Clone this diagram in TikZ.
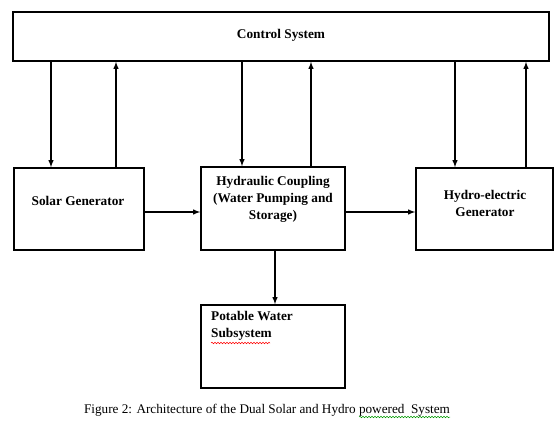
\documentclass[tikz,border=0pt]{standalone}
\usepackage{fontspec}
\setmainfont{Liberation Serif}
\usetikzlibrary{decorations.pathmorphing}
\tikzset{
  blok/.style={draw, line width=1.6pt, inner sep=0pt},
  lbl/.style={font=\bfseries\fontsize{13.3}{17}\selectfont, align=center, inner sep=0pt},
  fleche/.style={->, line width=1.4pt},
  squig/.style={decorate, decoration={snake, amplitude=0.8pt, segment length=3pt}, line width=0.5pt},
}
\begin{document}
\begin{tikzpicture}[x=1pt, y=-1pt, >=latex]
\useasboundingbox (0,0) rectangle (560,422);

% blocs
\node[blok, minimum width=536, minimum height=49] (ctrl) at (281,36.5) {};
\node[lbl] (ctrltxt) at (281,35) {Control System};

\node[blok, minimum width=130, minimum height=82] (solar) at (79,209) {};
\node[lbl] (solartxt) at (78,201) {Solar Generator};

\node[blok, minimum width=144, minimum height=83] (hydr) at (273,208.5) {};
\node[lbl] (hydrtxt) at (273,199) {Hydraulic Coupling\\(Water Pumping and\\Storage)};

\node[blok, minimum width=137, minimum height=82] (hydro) at (484.5,209) {};
\node[lbl] (hydrotxt) at (485,203.5) {Hydro-electric\\Generator};

\node[blok, minimum width=144, minimum height=83] (pot) at (273,346.5) {};
\node[lbl, align=left, anchor=north west] (pottxt) at (211,311) {Potable Water\\Subsystem};

% liaisons avec le controle
\foreach \xa/\xb/\b in {51/116/solar, 242/311/hydr, 455/526/hydro} {
  \draw[fleche] (\xa,0 |- ctrl.south) -- (\xa,0 |- \b.north);
  \draw[fleche] (\xb,0 |- \b.north) -- (\xb,0 |- ctrl.south);
}

% flux
\draw[fleche] (0,212 -| solar.east) -- (0,212 -| hydr.west);
\draw[fleche] (0,212 -| hydr.east) -- (0,212 -| hydro.west);
\draw[fleche] (275,0 |- hydr.south) -- (275,0 |- pot.north);

% legende
\node[font=\fontsize{13.2}{15}\selectfont, inner sep=0pt] (cap) at (267,410) {Figure 2: Architecture of the Dual Solar and Hydro powered\ \ System};

% soulignements
\coordinate (s1) at (211,343);
\coordinate (s2) at (270,343);
\draw[squig, red] (s1) -- (s2);
\coordinate (g1) at (359,417);
\coordinate (g2) at (450,417);
\draw[squig, green!60!black] (g1) -- (g2);
\end{tikzpicture}
\end{document}
